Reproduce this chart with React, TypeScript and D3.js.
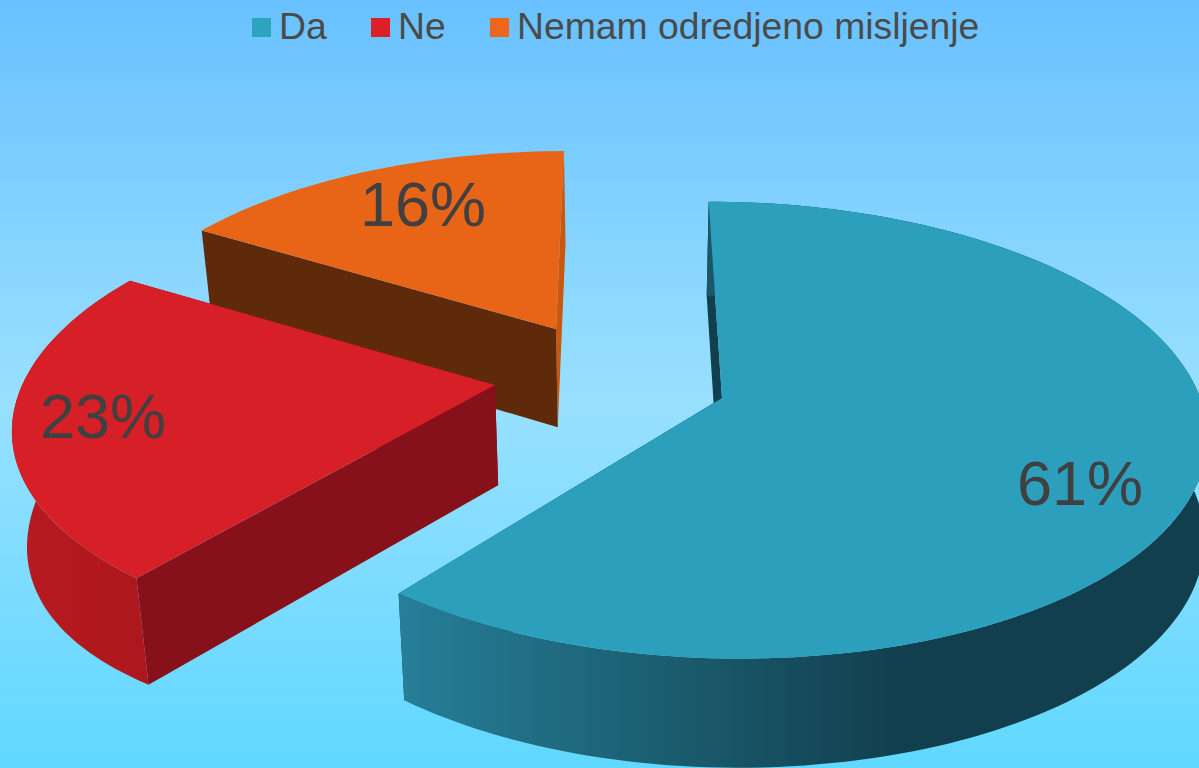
import React from "react";
import * as d3 from "d3";

const categories = ["Da", "Ne", "Nemam odredjeno misljenje"];
const values = [61, 23, 16];
const labels = ["61%", "23%", "16%"];
const topColors = ["#2C9FBC", "#D71F27", "#E86518"];
const legendColors = ["#2EA3C0", "#DC1F28", "#EC671C"];
const startWallColors = ["#123F4E", "#87111A", "#5E2A09"];
const endWallColors = ["#123F4E", "#87111A", "#C8570F"];
const explodeX = [0, -0.477, -0.3615];
const explodeY = [0, 0.058, 0.3207];
const rimRadius = [0.995, 0.995, 0.98];
const rimShear = [0.015, 0, 0.01];
const rimShift = [3, 1, 0];
const startNudge = [0, 0.021, 0];
const endNudge = [0, 0.006, 0.01];
const wallBulge = [0, 14, 0];
const labelX = [1080, 103, 423];
const labelY = [505, 438, 226];
const legendBoxX = [252, 371, 490];

const W = 1199;
const H = 768;
const cx = 722;
const cy = 398;
const rx = 480;
const ry = 224.9;
const persp = 0.1416;

type P = [number, number];
const project = (X: number, Y: number): P => {
  const w = 1 + persp * Y;
  return [cx + (rx * X) / w, cy - (ry * Y) / w];
};
const drop = ([x, y]: P): P => [x + Math.max(-3, (628 - x) * 0.0245), y * 1.033 + 87.4];

const pieGen = d3
  .pie<number>()
  .sort(null)
  .startAngle(-0.039)
  .endAngle(2 * Math.PI - 0.039);
const line = d3.line<P>();

export default function App() {
  const arcs = pieGen(values);
  const slices = arcs.map((a, i) => {
    const start = a.startAngle + startNudge[i];
    const end = a.endAngle + endNudge[i];
    const steps = Math.max(8, Math.round((end - start) * 40));
    const apex = project(explodeX[i], explodeY[i]);
    const rim: P[] = d3.range(steps + 1).map((k) => {
      const t = start + ((end - start) * k) / steps;
      const p = project(
        explodeX[i] + rimRadius[i] * Math.sin(t),
        explodeY[i] + rimRadius[i] * Math.cos(t)
      );
      return [p[0] + rimShift[i], p[1] + rimShear[i] * (p[0] - apex[0])] as P;
    });
    const rimLow = rim.map((p, k) => {
      const q = drop(p);
      return [q[0], q[1] + wallBulge[i] * Math.sin((Math.PI * k) / steps)] as P;
    });
    const apexLow = drop(apex);
    return {
      i,
      top: line([apex, ...rim])! + "Z",
      outer: line([...rim, ...rimLow.slice().reverse()])! + "Z",
      startWall: line([apex, rim[0], rimLow[0], apexLow])! + "Z",
      endWall: line([apex, rim[steps], rimLow[steps], apexLow])! + "Z",
    };
  });
  const outerFills = ["url(#blueWall)", "url(#redWall)", "none"];
  return (
    <svg
      width={W}
      height={H}
      viewBox={`0 0 ${W} ${H}`}
      style={{ position: "absolute", left: 0, top: 0, display: "block" }}
      fontFamily="'Liberation Sans', Arial, sans-serif"
    >
      <defs>
        <linearGradient id="bg" x1="0" y1="0" x2="0" y2="1">
          <stop offset="0" stopColor="#68C1FF" />
          <stop offset="0.52" stopColor="#99E0FF" />
          <stop offset="1" stopColor="#60D8FF" />
        </linearGradient>
        <linearGradient id="blueWall" gradientUnits="userSpaceOnUse" x1="397" y1="0" x2="900" y2="0">
          <stop offset="0" stopColor="#277F99" />
          <stop offset="0.5" stopColor="#1B5F72" />
          <stop offset="1" stopColor="#123F4E" />
        </linearGradient>
        <linearGradient id="redWall" gradientUnits="userSpaceOnUse" x1="20" y1="0" x2="150" y2="0">
          <stop offset="0" stopColor="#B71A20" />
          <stop offset="1" stopColor="#AC171D" />
        </linearGradient>
      </defs>
      <rect x={0} y={0} width={W} height={H} fill="url(#bg)" />
      {categories.map((c, i) => (
        <g key={c}>
          <rect x={legendBoxX[i]} y={18} width={19} height={19} fill={legendColors[i]} />
          <text x={legendBoxX[i] + 27} y={39} fontSize={37.3} fill="#4A4A4A">
            {c}
          </text>
        </g>
      ))}
      {[2, 1, 0].map((i) => {
        const s = slices[i];
        return (
          <g key={i}>
            <path d={s.endWall} fill={endWallColors[i]} />
            <path d={s.startWall} fill={startWallColors[i]} />
            <path d={s.outer} fill={outerFills[i]} />
            <path d={s.top} fill={topColors[i]} />
          </g>
        );
      })}
      {labels.map((l, i) => (
        <text key={l} x={labelX[i]} y={labelY[i]} fontSize={63} textAnchor="middle" fill="#404040">
          {l}
        </text>
      ))}
    </svg>
  );
}
